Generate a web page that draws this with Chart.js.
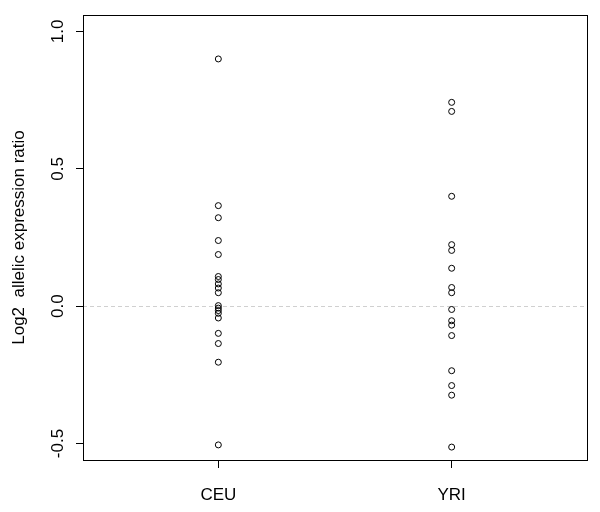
<!DOCTYPE html>
<html>
<head>
<meta charset="utf-8">
<script src="https://cdn.jsdelivr.net/npm/chart.js@4.4.1/dist/chart.umd.min.js"></script>
<style>
  html, body { margin: 0; padding: 0; background: #fff; }
  canvas { display: block; }
</style>
</head>
<body>
<canvas id="chart" width="600" height="512"></canvas>
<script>
const groups = ["CEU", "YRI"];
const ceuValues = [0.90, 0.366, 0.322, 0.239, 0.188, 0.108, 0.097, 0.081, 0.066, 0.049,
                   0.002, -0.007, -0.016, -0.026, -0.043, -0.099, -0.136, -0.204, -0.505];
const yriValues = [0.742, 0.709, 0.400, 0.224, 0.203, 0.138, 0.068, 0.049, -0.012,
                   -0.053, -0.069, -0.107, -0.235, -0.289, -0.324, -0.513];
const yTicks = [-0.5, 0.0, 0.5, 1.0];
const yTitle = "Log2  allelic expression ratio";

const FONT = "'Liberation Sans', Arial, Helvetica, sans-serif";

const frame = {
    id: "frame",
    beforeDatasetsDraw(chart) {
        const { ctx, chartArea: a, scales } = chart;
        const y0 = Math.round(scales.y.getPixelForValue(0)) + 0.5;
        ctx.save();
        ctx.strokeStyle = "#d0d0d0";
        ctx.lineWidth = 1;
        ctx.setLineDash([4, 3]);
        ctx.beginPath();
        ctx.moveTo(a.left, y0);
        ctx.lineTo(a.right, y0);
        ctx.stroke();
        ctx.restore();
    },
    afterDraw(chart) {
        const { ctx, chartArea: a, scales } = chart;
        ctx.save();
        ctx.strokeStyle = "#000";
        ctx.lineWidth = 1;
        ctx.strokeRect(Math.round(a.left) + 0.5, Math.round(a.top) + 0.5,
                       Math.round(a.right - a.left), Math.round(a.bottom - a.top));
        ctx.fillStyle = "#000";
        ctx.font = "17px " + FONT;
        ctx.textAlign = "center";
        ctx.textBaseline = "alphabetic";
        yTicks.forEach(v => {
            const py = scales.y.getPixelForValue(v);
            ctx.save();
            ctx.translate(63, py);
            ctx.rotate(-Math.PI / 2);
            ctx.fillText(v.toFixed(1), 0, 0);
            ctx.restore();
        });
        ctx.translate(24, (a.top + a.bottom) / 2);
        ctx.rotate(-Math.PI / 2);
        ctx.fillText(yTitle, 0, 0);
        ctx.restore();
    },
};

const pointStyle = {
    pointRadius: 3,
    pointHoverRadius: 3,
    pointBorderWidth: 1,
    pointBorderColor: "#000",
    pointBackgroundColor: "rgba(0,0,0,0)",
    showLine: false,
};

new Chart(document.getElementById("chart"), {
    type: "scatter",
    data: {
        datasets: [
            { label: groups[0], data: ceuValues.map(v => ({ x: 1, y: v })), ...pointStyle },
            { label: groups[1], data: yriValues.map(v => ({ x: 2, y: v })), ...pointStyle },
        ],
    },
    options: {
        responsive: false,
        animation: false,
        devicePixelRatio: 1,
        layout: { padding: { left: 76, top: 15, right: 13, bottom: 0 } },
        scales: {
            x: {
                type: "linear", min: 0.42, max: 2.58,
                afterBuildTicks: a => { a.ticks = groups.map((_, i) => ({ value: i + 1 })); },
                afterFit: s => { s.height = 52; },
                grid: { drawOnChartArea: false, tickLength: 8, color: "#000" },
                border: { display: false },
                ticks: {
                    callback: v => groups[v - 1],
                    color: "#000", font: { size: 17, family: FONT },
                    padding: 17, maxRotation: 0, autoSkip: false,
                },
            },
            y: {
                type: "linear", min: -0.56, max: 1.06,
                afterBuildTicks: a => { a.ticks = yTicks.map(v => ({ value: v })); },
                grid: { drawOnChartArea: false, tickLength: 7, color: "#000" },
                border: { display: false },
                ticks: { display: false },
            },
        },
        plugins: { legend: { display: false }, tooltip: { enabled: false } },
    },
    plugins: [frame],
});
</script>
</body>
</html>
